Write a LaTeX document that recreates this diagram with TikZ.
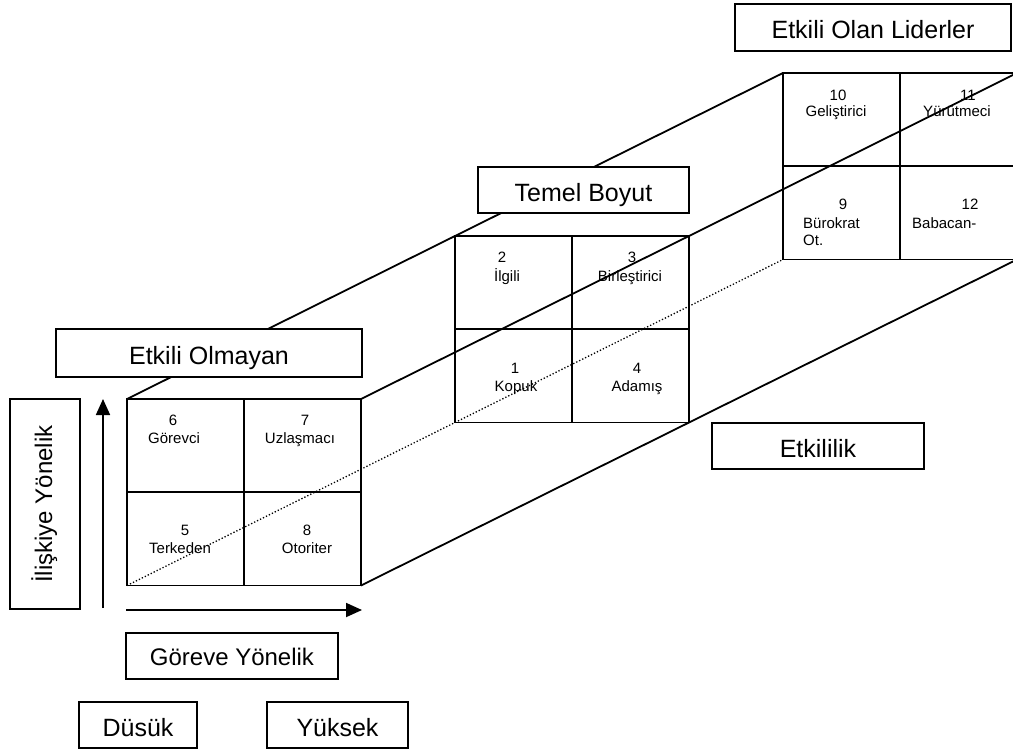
\documentclass[tikz,border=0pt]{standalone}
\usepackage{fontspec}
\setmainfont{Liberation Sans}
\usetikzlibrary{arrows.meta}

\begin{document}
\begin{tikzpicture}[x=1pt,y=-1pt,
    edge/.style={black, line width=1.8pt},
    lbox/.style={draw, fill=white, line width=1.3pt, inner sep=0pt,
      font=\fontsize{25}{30}\selectfont, text height=22pt, text depth=0pt},
    cell/.style={anchor=base, inner sep=0pt, font=\fontsize{15}{18}\selectfont},
    axis/.style={black, line width=1.8pt, -{Triangle[length=16pt,width=14pt]}}]
  \useasboundingbox (0,0) rectangle (1013,753);

  \coordinate (ftl) at (127,399);   \coordinate (ftr) at (361,399);
  \coordinate (fbl) at (127,585.5); \coordinate (fbr) at (361,585.5);
  \coordinate (mtl) at (455,236);   \coordinate (mbr) at (689,422.5);
  \coordinate (btl) at (783,73);    \coordinate (btr) at (1017,73);
  \coordinate (bbl) at (783,259.5); \coordinate (bbr) at (1017,259.5);

  \draw [edge] (ftl) -- (btl);
  \draw [edge] (ftr) -- (btr);
  \draw [edge] (fbr) -- (bbr);
  \draw [black, line width=1.3pt, dotted] (fbl) -- (bbl);

  \draw [edge] (ftl) rectangle (fbr) (244,399) -- (244,585.5) (127,492) -- (361,492);
  \draw [edge] (mtl) rectangle (mbr) (572,236) -- (572,422.5) (455,329) -- (689,329);
  \draw [edge] (btl) rectangle (bbr) (900,73) -- (900,259.5) (783,166) -- (1017,166);

  \node [cell] (n6) at (173,425) {6};    \node [cell] (t6) at (174,443) {Görevci};
  \node [cell] (n7) at (305,425) {7};    \node [cell] (t7) at (300,443) {Uzlaşmacı};
  \node [cell] (n5) at (185,535) {5};    \node [cell] (t5) at (180,553) {Terkeden};
  \node [cell] (n8) at (307,535) {8};    \node [cell] (t8) at (307,553) {Otoriter};
  \node [cell] (n2) at (502,262) {2};    \node [cell] (t2) at (507,281.5) {İlgili};
  \node [cell] (n3) at (632,262) {3};    \node [cell] (t3) at (630,281.5) {Birleştirici};
  \node [cell] (n1) at (515,373) {1};    \node [cell] (t1) at (516,391.5) {Kopuk};
  \node [cell] (n4) at (637,373) {4};    \node [cell] (t4) at (637,391.5) {Adamış};
  \node [cell] (n10) at (838,100) {10};  \node [cell] (t10) at (836,116.5) {Geliştirici};
  \node [cell] (n11) at (968,100) {11};  \node [cell] (t11) at (957,116.5) {Yürütmeci};
  \node [cell] (n9) at (843,209) {9};
  \node [cell, anchor=base west] (t9) at (803,228) {Bürokrat};
  \node [cell, anchor=base west] (t9b) at (803,245) {Ot.};
  \node [cell] (n12) at (970,209) {12};
  \node [cell, anchor=base west] (t12) at (912,228) {Babacan-};

  \node [lbox, minimum width=276pt, minimum height=47pt] (olan) at (873,27.5) {Etkili Olan Liderler};
  \node [lbox, minimum width=211pt, minimum height=46pt] (temel) at (583.5,190) {Temel Boyut};
  \node [lbox, minimum width=306pt, minimum height=48pt] (olmayan) at (209,353) {Etkili Olmayan};
  \node [lbox, minimum width=212pt, minimum height=46pt] (etkilik) at (818,446) {Etkililik};
  \node [lbox, minimum width=210pt, minimum height=70pt, rotate=90, text height=14pt,
    font=\fontsize{24}{28}\selectfont] (iliski) at (45,504) {İlişkiye Yönelik};
  \node [lbox, minimum width=212pt, minimum height=46pt, text height=19pt,
    font=\fontsize{24}{28}\selectfont] (goreve) at (232,656) {Göreve Yönelik};
  \node [lbox, minimum width=118pt, minimum height=46pt] (dusuk) at (138,725) {Düsük};
  \node [lbox, minimum width=141pt, minimum height=46pt] (yuksek) at (337.5,725) {Yüksek};

  \coordinate (ys) at (103,608); \coordinate (ye) at (103,399);
  \coordinate (xs) at (126,610); \coordinate (xe) at (362,610);
  \draw [axis] (ys) -- (ye);
  \draw [axis] (xs) -- (xe);
\end{tikzpicture}
\end{document}
